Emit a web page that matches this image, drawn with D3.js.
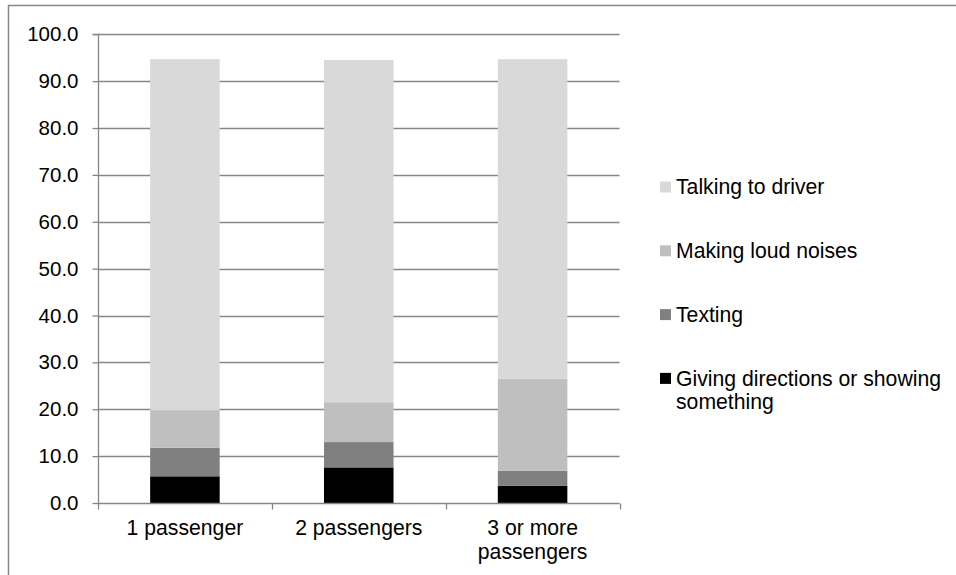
<!DOCTYPE html>
<html>
<head>
<meta charset="utf-8">
<script src="https://cdn.jsdelivr.net/npm/d3@7"></script>
<style>
  html, body { margin: 0; padding: 0; background: #fff; }
  svg { display: block; }
  text { font-family: "Liberation Sans", Arial, sans-serif; fill: #000; }
</style>
</head>
<body>
<svg id="chart" width="956" height="575"></svg>
<script>
const categories = [["1 passenger"], ["2 passengers"], ["3 or more", "passengers"]];
const categoryKeys = ["1 passenger", "2 passengers", "3 or more passengers"];
const seriesNames = ["Giving directions or showing something", "Texting", "Making loud noises", "Talking to driver"];
const givingDirections = [5.7, 7.6, 3.7];
const texting = [6.1, 5.4, 3.2];
const makingLoudNoises = [8.0, 8.5, 19.6];
const talkingToDriver = [74.9, 73.0, 68.2];
const seriesColors = ["#000000", "#808080", "#bfbfbf", "#d9d9d9"];
const yTicks = [0, 10, 20, 30, 40, 50, 60, 70, 80, 90, 100];
const legendLines = [["Talking to driver"], ["Making loud noises"], ["Texting"], ["Giving directions or showing", "something"]];
const legendColors = ["#d9d9d9", "#bfbfbf", "#808080", "#000000"];

const seriesValues = [givingDirections, texting, makingLoudNoises, talkingToDriver];
const rows = categoryKeys.map((c, i) => {
  const r = { cat: c };
  seriesNames.forEach((s, j) => r[s] = seriesValues[j][i]);
  return r;
});

const svg = d3.select("#chart");
const gridColor = "#868686";
const fsY = 20.5;
const fs = 21.2;

// outer frame
svg.append("rect").attr("x", 8.5).attr("y", 5.5).attr("width", 960).attr("height", 600)
  .attr("fill", "none").attr("stroke", gridColor).attr("stroke-width", 1.5);

const x = d3.scaleBand().domain(categoryKeys).range([98, 619.5]).paddingInner(0.6).paddingOuter(0.3);
const xCat = d3.scaleBand().domain(categoryKeys).range([98, 619.5]).padding(0);
const y = d3.scaleLinear().domain([0, 100]).range([503, 34.3]);

// gridlines
svg.append("g").selectAll("line").data(yTicks.filter(t => t > 0)).join("line")
  .attr("x1", 98).attr("x2", 619.5)
  .attr("y1", d => Math.round(y(d)) + 0.5).attr("y2", d => Math.round(y(d)) + 0.5)
  .attr("stroke", gridColor).attr("stroke-width", 1.3);

// stacked bars
const stack = d3.stack().keys(seriesNames);
const stacked = stack(rows);
svg.append("g").selectAll("g").data(stacked).join("g")
  .attr("fill", (d, i) => seriesColors[i])
  .selectAll("rect").data(d => d).join("rect")
  .attr("x", d => x(d.data.cat))
  .attr("width", x.bandwidth())
  .attr("y", d => y(d[1]))
  .attr("height", d => y(d[0]) - y(d[1]));

// y axis
const yAxis = d3.axisLeft(y).tickValues(yTicks).tickFormat(d3.format(".1f")).tickSize(6).tickPadding(14);
const gy = svg.append("g").attr("transform", "translate(98.5,0)").call(yAxis);
gy.select(".domain").attr("stroke", gridColor).attr("stroke-width", 1.3).attr("d", `M-6,${y(100)}H0V${y(0)}`);
gy.selectAll(".tick line").attr("stroke", gridColor).attr("stroke-width", 1.3);
gy.selectAll(".tick text").attr("font-size", fsY).attr("font-family", "Liberation Sans, Arial, sans-serif").attr("fill", "#000");

// x axis
const xAxis = d3.axisBottom(xCat).tickSize(0).tickFormat("");
const gx = svg.append("g").attr("transform", `translate(0,${Math.round(y(0)) + 0.5})`).call(xAxis);
gx.select(".domain").attr("stroke", gridColor).attr("stroke-width", 1.3).attr("d", "M98,0H619.5");
// category separators
const sepX = [xCat.range()[0], ...categoryKeys.map(c => xCat(c) + xCat.bandwidth())];
gx.append("g").selectAll("line").data(sepX).join("line")
  .attr("x1", d => Math.round(d) + 0.5).attr("x2", d => Math.round(d) + 0.5)
  .attr("y1", 0).attr("y2", 6).attr("stroke", gridColor).attr("stroke-width", 1.3);
// category labels
const lbl = svg.append("g").selectAll("text").data(categories).join("text")
  .attr("text-anchor", "middle")
  .attr("font-size", fs)
  .attr("transform", (d, i) => `translate(${xCat(categoryKeys[i]) + xCat.bandwidth() / 2},535)`);
lbl.selectAll("tspan").data(d => d).join("tspan")
  .attr("x", 0).attr("dy", (d, i) => i === 0 ? 0 : 23.5).text(d => d);

// legend
const lg = svg.append("g").selectAll("g").data(legendLines).join("g")
  .attr("transform", (d, i) => `translate(660,${187 + i * 63.8})`);
lg.append("rect").attr("x", 0).attr("y", -5.5).attr("width", 11).attr("height", 11)
  .attr("fill", (d, i) => legendColors[i]);
const lt = lg.append("text").attr("x", 16).attr("y", 7.2).attr("font-size", fs);
lt.selectAll("tspan").data(d => d).join("tspan")
  .attr("x", 16).attr("dy", (d, i) => i === 0 ? 0 : 23.5).text(d => d);
</script>
</body>
</html>
